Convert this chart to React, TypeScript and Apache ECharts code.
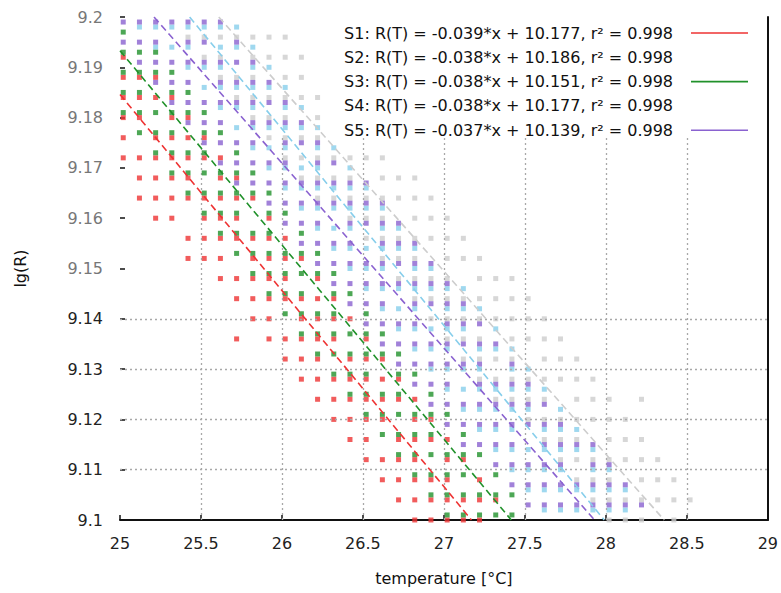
import { useEffect, useRef } from 'react';
import * as echarts from 'echarts';

const xTicks = [25, 25.5, 26, 26.5, 27, 27.5, 28, 28.5, 29];
const yTicks = [9.1, 9.11, 9.12, 9.13, 9.14, 9.15, 9.16, 9.17, 9.18, 9.19, 9.2];
const yGridValues = [9.11, 9.12, 9.13, 9.14];
const xGridValues = [25.5, 26, 26.5, 27, 27.5, 28, 28.5];

type Col = [number, number[]];

const s1Cols: Col[] = [
  [25.02, [9.172, 9.176, 9.18, 9.184, 9.188, 9.192]],
  [25.12, [9.164, 9.168, 9.172, 9.18, 9.184, 9.188]],
  [25.22, [9.16, 9.164, 9.168, 9.172, 9.176, 9.184, 9.188]],
  [25.32, [9.16, 9.164, 9.168, 9.172, 9.176, 9.18, 9.184]],
  [25.42, [9.152, 9.156, 9.164, 9.168, 9.172, 9.176, 9.18]],
  [25.52, [9.152, 9.156, 9.16, 9.164, 9.172, 9.176]],
  [25.62, [9.148, 9.152, 9.156, 9.16, 9.164, 9.168, 9.172]],
  [25.72, [9.136, 9.144, 9.148, 9.156, 9.16, 9.164, 9.168]],
  [25.82, [9.14, 9.144, 9.148, 9.152, 9.156, 9.164]],
  [25.92, [9.136, 9.14, 9.144, 9.148, 9.152, 9.156, 9.16]],
  [26.02, [9.132, 9.136, 9.144, 9.148, 9.152, 9.156]],
  [26.12, [9.128, 9.132, 9.136, 9.14, 9.144, 9.152]],
  [26.22, [9.124, 9.128, 9.132, 9.136, 9.14, 9.144, 9.148]],
  [26.32, [9.12, 9.124, 9.128, 9.136, 9.14, 9.144]],
  [26.42, [9.116, 9.12, 9.124, 9.128, 9.132, 9.14]],
  [26.52, [9.112, 9.116, 9.12, 9.124, 9.128, 9.132, 9.136]],
  [26.62, [9.108, 9.112, 9.12, 9.124, 9.128, 9.132]],
  [26.72, [9.104, 9.108, 9.112, 9.116, 9.124, 9.128]],
  [26.82, [9.1, 9.104, 9.108, 9.112, 9.116, 9.12, 9.124]],
  [26.92, [9.1, 9.104, 9.108, 9.116, 9.12]],
  [27.02, [9.1, 9.104, 9.108, 9.112, 9.116]],
  [27.12, [9.1, 9.104, 9.112]],
  [27.22, [9.1, 9.104, 9.108]],
  [27.32, [9.104]],
];

const s2Cols: Col[] = [
  [25.12, [9.198]],
  [25.22, [9.194, 9.198]],
  [25.32, [9.194, 9.198]],
  [25.42, [9.19, 9.194, 9.198]],
  [25.52, [9.186, 9.19, 9.198]],
  [25.62, [9.182, 9.186, 9.19, 9.194, 9.198]],
  [25.72, [9.178, 9.182, 9.186, 9.194, 9.198]],
  [25.82, [9.174, 9.178, 9.182, 9.186, 9.19, 9.194]],
  [25.92, [9.17, 9.174, 9.178, 9.186, 9.19]],
  [26.02, [9.166, 9.17, 9.174, 9.178, 9.182, 9.186]],
  [26.12, [9.162, 9.166, 9.17, 9.178, 9.182]],
  [26.22, [9.158, 9.162, 9.166, 9.17, 9.174, 9.178]],
  [26.32, [9.154, 9.158, 9.162, 9.166, 9.174]],
  [26.42, [9.15, 9.154, 9.158, 9.162, 9.166, 9.17]],
  [26.52, [9.146, 9.15, 9.154, 9.162, 9.166]],
  [26.62, [9.142, 9.146, 9.15, 9.154, 9.158, 9.162]],
  [26.72, [9.138, 9.142, 9.146, 9.154, 9.158]],
  [26.82, [9.134, 9.138, 9.142, 9.146, 9.15, 9.154]],
  [26.92, [9.13, 9.134, 9.138, 9.146, 9.15]],
  [27.02, [9.126, 9.13, 9.134, 9.138, 9.142, 9.146]],
  [27.12, [9.122, 9.126, 9.13, 9.138, 9.142, 9.146]],
  [27.22, [9.118, 9.122, 9.126, 9.13, 9.134, 9.142]],
  [27.32, [9.114, 9.118, 9.122, 9.126, 9.134, 9.138]],
  [27.42, [9.11, 9.114, 9.118, 9.122, 9.126, 9.13, 9.134]],
  [27.52, [9.106, 9.11, 9.114, 9.122, 9.126, 9.13]],
  [27.62, [9.102, 9.106, 9.11, 9.114, 9.118, 9.126]],
  [27.72, [9.102, 9.106, 9.11, 9.114, 9.118, 9.122]],
  [27.82, [9.102, 9.106, 9.114, 9.118]],
  [27.92, [9.102, 9.106, 9.11, 9.114]],
  [28.02, [9.102, 9.106, 9.11]],
  [28.12, [9.102, 9.106]],
];

const s3Cols: Col[] = [
  [25.02, [9.181, 9.185, 9.189, 9.193, 9.197]],
  [25.12, [9.177, 9.181, 9.185, 9.189, 9.193]],
  [25.22, [9.173, 9.177, 9.181, 9.189, 9.193]],
  [25.32, [9.169, 9.173, 9.177, 9.181, 9.185, 9.189]],
  [25.42, [9.165, 9.169, 9.173, 9.181, 9.185]],
  [25.52, [9.161, 9.165, 9.169, 9.173, 9.177, 9.181]],
  [25.62, [9.157, 9.161, 9.165, 9.169, 9.177]],
  [25.72, [9.153, 9.157, 9.161, 9.165, 9.169, 9.173]],
  [25.82, [9.149, 9.153, 9.157, 9.165, 9.169]],
  [25.92, [9.145, 9.149, 9.153, 9.157, 9.161, 9.165]],
  [26.02, [9.141, 9.145, 9.149, 9.153, 9.161]],
  [26.12, [9.137, 9.141, 9.145, 9.149, 9.153, 9.157]],
  [26.22, [9.133, 9.137, 9.141, 9.149, 9.153]],
  [26.32, [9.129, 9.133, 9.137, 9.141, 9.145, 9.149]],
  [26.42, [9.125, 9.129, 9.133, 9.137, 9.145]],
  [26.52, [9.121, 9.125, 9.129, 9.133, 9.137, 9.141]],
  [26.62, [9.117, 9.121, 9.125, 9.133, 9.137]],
  [26.72, [9.113, 9.117, 9.121, 9.125, 9.129, 9.133]],
  [26.82, [9.109, 9.113, 9.117, 9.121, 9.129]],
  [26.92, [9.105, 9.109, 9.113, 9.117, 9.121, 9.125]],
  [27.02, [9.101, 9.105, 9.109, 9.113, 9.121]],
  [27.12, [9.101, 9.105, 9.109, 9.113, 9.117]],
  [27.22, [9.101, 9.105, 9.113]],
  [27.32, [9.101, 9.105, 9.109]],
  [27.42, [9.101, 9.105]],
];

const s4Cols: Col[] = [
  [25.42, [9.196]],
  [25.52, [9.192, 9.196]],
  [25.62, [9.188, 9.192, 9.196]],
  [25.72, [9.184, 9.188, 9.196]],
  [25.82, [9.18, 9.184, 9.188, 9.192, 9.196]],
  [25.92, [9.176, 9.18, 9.184, 9.192, 9.196]],
  [26.02, [9.172, 9.176, 9.18, 9.184, 9.188, 9.192, 9.196]],
  [26.12, [9.168, 9.172, 9.176, 9.184, 9.188, 9.192]],
  [26.22, [9.164, 9.168, 9.172, 9.176, 9.18, 9.184]],
  [26.32, [9.164, 9.168, 9.172]],
  [26.42, [9.16, 9.164, 9.168, 9.172]],
  [26.52, [9.156, 9.16, 9.164, 9.172]],
  [26.62, [9.152, 9.156, 9.16, 9.164, 9.168, 9.172]],
  [26.72, [9.148, 9.152, 9.156, 9.164, 9.168]],
  [26.82, [9.144, 9.148, 9.152, 9.156, 9.16, 9.164, 9.168]],
  [26.92, [9.14, 9.144, 9.148, 9.156, 9.16, 9.164]],
  [27.02, [9.136, 9.14, 9.144, 9.148, 9.152, 9.156, 9.16]],
  [27.12, [9.132, 9.136, 9.14, 9.144, 9.152, 9.156]],
  [27.22, [9.128, 9.132, 9.136, 9.14, 9.144, 9.148, 9.152]],
  [27.32, [9.124, 9.128, 9.132, 9.14, 9.144, 9.148]],
  [27.42, [9.124, 9.128, 9.132, 9.136, 9.14, 9.144, 9.148]],
  [27.52, [9.12, 9.124, 9.128, 9.136, 9.14, 9.144]],
  [27.62, [9.116, 9.12, 9.124, 9.128, 9.132, 9.136, 9.14]],
  [27.72, [9.112, 9.116, 9.12, 9.128, 9.132, 9.136]],
  [27.82, [9.108, 9.112, 9.116, 9.12, 9.124, 9.128, 9.132]],
  [27.92, [9.104, 9.108, 9.112, 9.12, 9.124, 9.128]],
  [28.02, [9.1, 9.104, 9.108, 9.112, 9.116, 9.12, 9.124]],
  [28.12, [9.1, 9.104, 9.112, 9.116, 9.12]],
  [28.22, [9.1, 9.104, 9.108, 9.112, 9.116, 9.124]],
  [28.32, [9.104, 9.108, 9.112]],
  [28.42, [9.1, 9.104, 9.108]],
  [28.52, [9.104]],
];

const s5Cols: Col[] = [
  [25.02, [9.195, 9.199]],
  [25.12, [9.191, 9.195, 9.199]],
  [25.22, [9.187, 9.191, 9.195, 9.199]],
  [25.32, [9.183, 9.187, 9.191, 9.199]],
  [25.42, [9.179, 9.183, 9.187, 9.191, 9.195, 9.199]],
  [25.52, [9.175, 9.179, 9.183, 9.191, 9.195, 9.199]],
  [25.62, [9.171, 9.175, 9.179, 9.183, 9.187, 9.191, 9.199]],
  [25.72, [9.167, 9.171, 9.175, 9.183, 9.187, 9.191, 9.195]],
  [25.82, [9.167, 9.171, 9.175, 9.179, 9.183, 9.187, 9.191]],
  [25.92, [9.163, 9.167, 9.171, 9.179, 9.183, 9.187]],
  [26.02, [9.159, 9.163, 9.167, 9.171, 9.175, 9.179, 9.183]],
  [26.12, [9.155, 9.159, 9.163, 9.167, 9.175, 9.179]],
  [26.22, [9.151, 9.155, 9.159, 9.163, 9.167, 9.171, 9.175]],
  [26.32, [9.147, 9.151, 9.155, 9.163, 9.167, 9.171]],
  [26.42, [9.143, 9.147, 9.151, 9.155, 9.159, 9.163, 9.167]],
  [26.52, [9.139, 9.143, 9.147, 9.151, 9.159, 9.163, 9.167]],
  [26.62, [9.135, 9.139, 9.143, 9.147, 9.151, 9.155, 9.159, 9.163]],
  [26.72, [9.131, 9.135, 9.139, 9.147, 9.151, 9.155, 9.159]],
  [26.82, [9.127, 9.131, 9.135, 9.139, 9.143, 9.147, 9.151, 9.155]],
  [26.92, [9.123, 9.127, 9.131, 9.135, 9.143, 9.147, 9.151]],
  [27.02, [9.119, 9.123, 9.127, 9.131, 9.135, 9.139, 9.143, 9.147]],
  [27.12, [9.115, 9.119, 9.123, 9.131, 9.135, 9.139, 9.143]],
  [27.22, [9.115, 9.119, 9.123, 9.127, 9.131, 9.135, 9.139]],
  [27.32, [9.111, 9.115, 9.119, 9.123, 9.127, 9.135]],
  [27.42, [9.107, 9.111, 9.115, 9.119, 9.123, 9.127, 9.131]],
  [27.52, [9.103, 9.107, 9.111, 9.119, 9.123, 9.127]],
  [27.62, [9.103, 9.107, 9.111, 9.115, 9.119, 9.123]],
  [27.72, [9.103, 9.107, 9.111, 9.115, 9.119]],
  [27.82, [9.103, 9.107, 9.115]],
  [27.92, [9.103, 9.107, 9.111, 9.115]],
  [28.02, [9.103, 9.107, 9.111]],
  [28.12, [9.103, 9.107]],
  [28.22, [9.103]],
];

// fitted lines: [T, lg(R)] endpoints
const fitS1 = [[25.0, 9.1846], [27.17, 9.1]];
const fitS2 = [[25.43, 9.2], [27.99, 9.1]];
const fitS3 = [[25.0, 9.1933], [27.416, 9.1]];
const fitS4 = [[25.61, 9.2], [28.36, 9.1]];
const fitS5 = [[25.21, 9.2], [27.93, 9.1]];

const legendLabels = [
  'S1: R(T) = -0.039*x + 10.177, r² = 0.998',
  'S2: R(T) = -0.038*x + 10.186, r² = 0.998',
  'S3: R(T) = -0.038*x + 10.151, r² = 0.998',
  'S4: R(T) = -0.038*x + 10.177, r² = 0.998',
  'S5: R(T) = -0.037*x + 10.139, r² = 0.998',
];
const legendShowSample = [true, false, true, false, true];

const COLORS = ['#ee3333', '#87ceeb', '#20912a', '#cdcdcd', '#8a62d0'];
const FONT = 'DejaVu Sans';

function flatten(cols: Col[]) {
  const out: number[][] = [];
  cols.forEach(([t, ys]) => ys.forEach((y) => out.push([t, y])));
  return out;
}

export default function App() {
  const ref = useRef<HTMLDivElement>(null);
  useEffect(() => {
    if (!ref.current) return;
    const chart = echarts.init(ref.current, null, { renderer: 'svg' });
    const seriesCols = [s1Cols, s2Cols, s3Cols, s4Cols, s5Cols];
    const fits = [fitS1, fitS2, fitS3, fitS4, fitS5];
    const drawOrder = [3, 1, 0, 2, 4];

    const gridMarks: any[] = [];
    xGridValues.forEach((x) => gridMarks.push([{ coord: [x, 9.1] }, { coord: [x, 9.176] }]));
    yGridValues.forEach((y) => gridMarks.push([{ coord: [25, y] }, { coord: [29, y] }]));

    const series: any[] = [
      {
        type: 'line',
        data: [],
        silent: true,
        z: 1,
        markLine: {
          silent: true,
          symbol: ['none', 'none'],
          label: { show: false },
          lineStyle: { color: '#a8a8a8', type: [2, 3], width: 1.3 },
          data: gridMarks,
        },
      },
    ];
    drawOrder.forEach((i, k) => {
      series.push({
        type: 'scatter',
        name: 'S' + (i + 1),
        data: flatten(seriesCols[i]),
        symbol: 'rect',
        symbolSize: [5, 5],
        itemStyle: { color: COLORS[i] },
        z: 2 + k,
      });
    });
    drawOrder.forEach((i, k) => {
      series.push({
        type: 'line',
        name: 'fit S' + (i + 1),
        data: fits[i],
        showSymbol: false,
        lineStyle: { color: COLORS[i], width: 1.6, type: [7, 4] },
        z: 10 + k,
      });
    });

    const legendChildren: any[] = [
      { type: 'rect', shape: { x: 335, y: 18, width: 432, height: 122 }, style: { fill: '#ffffff' } },
    ];
    legendLabels.forEach((lab, i) => {
      const y = 33 + i * 24.3;
      legendChildren.push({
        type: 'text',
        style: {
          text: lab,
          x: 673,
          y,
          align: 'right',
          verticalAlign: 'middle',
          font: `16px "${FONT}"`,
          fill: '#111',
        },
      });
      if (legendShowSample[i]) {
        legendChildren.push({
          type: 'line',
          shape: { x1: 691, y1: y, x2: 748, y2: y },
          style: { stroke: COLORS[i], lineWidth: 1.6 },
        });
      }
    });

    chart.setOption({
      animation: false,
      backgroundColor: '#ffffff',
      grid: { left: 120, right: 11, top: 17, bottom: 73 },
      xAxis: {
        type: 'value',
        min: 25,
        max: 29,
        interval: 0.5,
        name: 'temperature [°C]',
        nameLocation: 'middle',
        nameGap: 50,
        nameTextStyle: { fontFamily: FONT, fontSize: 16, color: '#111' },
        axisLine: { show: true, lineStyle: { color: '#111', width: 2 } },
        axisTick: { show: true, inside: true, length: 5, lineStyle: { color: '#111', width: 1.5 } },
        axisLabel: {
          margin: 15,
          fontFamily: FONT,
          fontSize: 16,
          color: '#222',
          formatter: (v: number) => (xTicks.includes(v) ? String(v) : ''),
        },
        splitLine: { show: false },
      },
      yAxis: [
        {
          type: 'value',
          min: 9.1,
          max: 9.2,
          interval: 0.01,
          name: 'lg(R)',
          nameLocation: 'middle',
          nameGap: 92,
          nameTextStyle: { fontFamily: FONT, fontSize: 16, color: '#111' },
          axisLine: { show: false },
          axisTick: { show: true, inside: true, length: 5, lineStyle: { color: '#111', width: 1.5 } },
          axisLabel: {
            margin: 17,
            fontFamily: FONT,
            fontSize: 16,
            color: (v: any) => (Number(v) > 9.145 ? '#777' : '#222'),
            formatter: (v: number) => {
              const t = yTicks.find((y) => Math.abs(y - v) < 1e-6);
              return t === undefined ? '' : String(t);
            },
          },
          splitLine: { show: false },
        },
        {
          type: 'value',
          position: 'right',
          min: 9.1,
          max: 9.2,
          interval: 0.01,
          axisLine: { show: true, onZero: false, lineStyle: { color: '#111', width: 2 } },
          axisTick: { show: false },
          axisLabel: { show: false },
          splitLine: { show: false },
        },
      ],
      series,
      graphic: [{ type: 'group', z: 100, children: legendChildren }],
    });
    return () => chart.dispose();
  }, []);
  return (
    <div
      ref={ref}
      style={{ position: 'fixed', left: 0, top: 0, width: 781, height: 593 }}
    />
  );
}
